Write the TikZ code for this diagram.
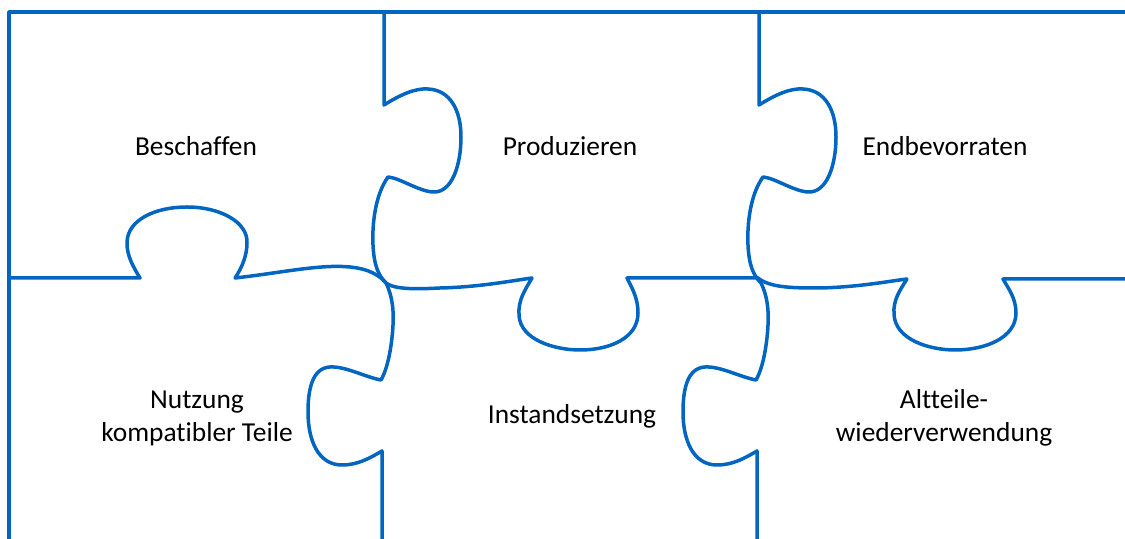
\documentclass[tikz,border=0pt]{standalone}
\usepackage{fontspec}
\setmainfont{Carlito}[Ligatures=NoCommon]
\definecolor{puzzleblue}{RGB}{0,102,194}
\begin{document}
\begin{tikzpicture}[x=0.5pt,y=-0.5pt,
  edge/.style={draw=puzzleblue,line width=1.75pt,line join=round,line cap=round},
  piecetext/.style={font=\fontsize{13.7pt}{16.5pt}\selectfont,text=black,inner sep=0pt,align=center,anchor=base}]
\useasboundingbox (0,0) rectangle (1125,539);

% outer frame: left and top edges
\draw[edge] (9,539) -- (9,12) -- (1125,12);

% the two vertical seams (identical, shifted)
\foreach \dx in {0,375}{
\begin{scope}[shift={(\dx,0)}]
\draw[edge] (384,12) -- (384,105)
  .. controls (400,95) and (415,88) .. (428,89)
  .. controls (450,90) and (461,110) .. (461,137)
  .. controls (461,165) and (452,193) .. (433,192)
  .. controls (418,191) and (400,178) .. (388,177)
  .. controls (375,195) and (372,225) .. (373,245)
  .. controls (374,265) and (378,275) .. (386,283)
  .. controls (392,295) and (394,310) .. (393,325)
  .. controls (392,345) and (388,368) .. (381,380)
  .. controls (365,377) and (345,366) .. (330,367)
  .. controls (312,368) and (308,390) .. (308,412)
  .. controls (308,440) and (318,465) .. (342,465)
  .. controls (358,465) and (370,458) .. (382,451)
  -- (382,539);
\end{scope}}

% the horizontal seam
\draw[edge] (9,278) -- (140,278)
  .. controls (132,265) and (127,255) .. (127,243)
  .. controls (127,220) and (155,207) .. (187,207)
  .. controls (220,207) and (248,222) .. (247,243)
  .. controls (247,255) and (242,268) .. (235,278)
  .. controls (280,273) and (320,264) .. (350,267)
  .. controls (370,269) and (380,276) .. (386,283)
  .. controls (395,290) and (420,289) .. (440,288)
  .. controls (480,287) and (510,281) .. (532,278)
  .. controls (525,290) and (518,300) .. (519,315)
  .. controls (520,340) and (555,350) .. (580,350)
  .. controls (610,350) and (638,338) .. (638,313)
  .. controls (638,298) and (632,288) .. (627,278)
  -- (758,278)
  .. controls (770,288) and (795,288) .. (820,288)
  .. controls (860,287) and (890,281) .. (907,279)
  .. controls (900,290) and (893,300) .. (894,314)
  .. controls (895,340) and (930,350) .. (955,350)
  .. controls (985,350) and (1016,338) .. (1016,313)
  .. controls (1016,298) and (1008,288) .. (1003,279)
  -- (1125,279);

% piece captions (base anchor sits on the last line)
\node[piecetext] (beschaffen) at (196,156) {Beschaffen};
\node[piecetext] (produzieren) at (570,156) {Produzieren};
\node[piecetext] (endbevorraten) at (945,156) {Endbevorraten};
\node[piecetext] (nutzung) at (197,442) {Nutzung\\kompatibler Teile};
\node[piecetext] (instandsetzung) at (572,424) {Instandsetzung};
\node[piecetext] (altteile) at (944,442) {Altteile-\\wiederverwendung};
\end{tikzpicture}
\end{document}
